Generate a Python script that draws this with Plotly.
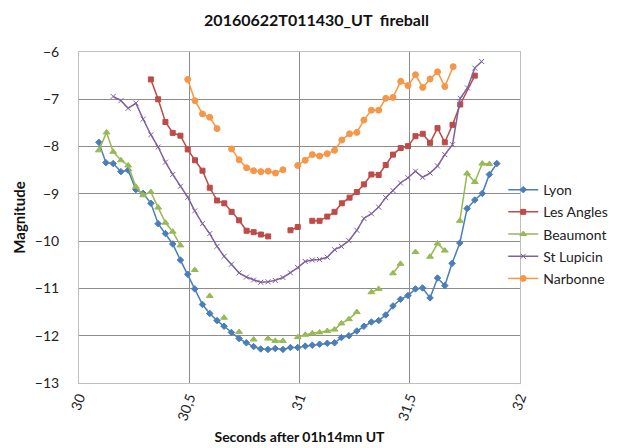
import plotly.graph_objects as go

# ---- data (seconds after 01h14mn UT, magnitude); None = gap ----
lyon_t = [30.09, 30.122, 30.155, 30.19, 30.223, 30.258, 30.291, 30.326, 30.359, 30.392,
          30.425, 30.46, 30.493, 30.525, 30.56, 30.593, 30.626, 30.658, 30.691, 30.726,
          30.759, 30.792, 30.824, 30.857, 30.89, 30.925, 30.959, 30.992, 31.026, 31.058,
          31.091, 31.126, 31.159, 31.19, 31.224, 31.26, 31.292, 31.326, 31.359, 31.391,
          31.424, 31.458, 31.492, 31.526, 31.558, 31.592, 31.626, 31.659, 31.692, 31.727,
          31.76, 31.795, 31.829, 31.861, 31.895]
lyon_m = [-7.91, -8.34, -8.36, -8.53, -8.50, -8.91, -8.99, -9.20, -9.63, -9.84,
          -10.06, -10.40, -10.70, -11.01, -11.34, -11.53, -11.68, -11.80, -11.93, -12.06,
          -12.15, -12.23, -12.28, -12.29, -12.27, -12.29, -12.25, -12.25, -12.22, -12.20,
          -12.18, -12.16, -12.15, -12.04, -12.00, -11.90, -11.80, -11.71, -11.68, -11.56,
          -11.37, -11.23, -11.15, -11.01, -10.99, -11.20, -10.78, -10.94, -10.47, -10.04,
          -9.31, -9.13, -8.99, -8.59, -8.36]

angles_t = [30.326, 30.359, 30.392, 30.425, 30.46, 30.493, 30.526, 30.56, 30.593, 30.626,
            30.659, 30.692, 30.726, 30.76, 30.792, 30.825, 30.858, None, 30.959, 30.992,
            None, 31.058, 31.091, 31.126, 31.159, 31.192, 31.227, 31.26, 31.292, 31.326,
            31.359, 31.391, 31.424, 31.459, 31.492, 31.526, 31.559, 31.592, 31.626, 31.659,
            31.694, 31.729, 31.795]
angles_m = [-6.58, -7.00, -7.48, -7.71, -7.77, -8.06, -8.29, -8.51, -8.87, -9.14,
            -9.20, -9.38, -9.56, -9.78, -9.81, -9.86, -9.90, None, -9.77, -9.70,
            None, -9.57, -9.57, -9.48, -9.38, -9.20, -9.08, -8.96, -8.80, -8.59,
            -8.60, -8.39, -8.17, -8.03, -7.99, -7.78, -7.73, -7.92, -7.61, -7.91,
            -7.54, -7.11, -6.50]

beaumont_t = [30.09, 30.125, 30.155, 30.19, 30.223, 30.258, 30.291, 30.326, 30.359, 30.392,
              30.425, 30.46, None, 30.525, None, 30.593, None, 30.658, None, 30.726,
              None, 30.792, None, 30.857, 30.89, 30.925, None, 30.992, 31.026, 31.058,
              31.091, 31.126, 31.159, 31.19, 31.224, 31.26, None, 31.326, 31.359, None,
              31.424, 31.458, None, 31.526, None, 31.592, 31.626, 31.659, None, 31.727,
              31.76, 31.795, 31.829, 31.861]
beaumont_m = [-8.08, -7.70, -8.11, -8.29, -8.40, -8.85, -9.03, -8.96, -9.29, -9.61,
              -9.80, -10.09, None, -10.61, None, -11.16, None, -11.62, None, -11.92,
              None, -12.08, None, -12.06, -12.11, -12.11, None, -12.03, -11.98, -11.95,
              -11.93, -11.90, -11.87, -11.74, -11.65, -11.50, None, -11.08, -11.01, None,
              -10.68, -10.48, None, -10.23, None, -10.33, -10.05, -10.20, None, -9.57,
              -8.57, -8.75, -8.36, -8.37]

lupicin_t = [30.155, 30.19, 30.223, 30.258, 30.291, 30.326, 30.359, 30.392, 30.425, 30.46,
             30.493, 30.525, 30.56, 30.593, 30.626, 30.658, 30.691, 30.726, 30.759, 30.792,
             30.824, 30.857, 30.89, 30.925, 30.959, 30.992, 31.026, 31.058, 31.091, 31.126,
             31.159, 31.19, 31.224, 31.26, 31.292, 31.326, 31.359, 31.391, 31.424, 31.458,
             31.492, 31.526, 31.558, 31.592, 31.626, 31.659, 31.694, 31.729, 31.762, 31.795,
             31.826]
lupicin_m = [-6.94, -7.03, -7.19, -7.08, -7.42, -7.75, -8.01, -8.33, -8.59, -8.84,
             -9.07, -9.36, -9.63, -9.84, -10.11, -10.32, -10.49, -10.67, -10.76, -10.82,
             -10.87, -10.86, -10.83, -10.77, -10.67, -10.56, -10.43, -10.40, -10.39, -10.34,
             -10.18, -10.11, -9.99, -9.77, -9.52, -9.42, -9.28, -9.08, -8.93, -8.77,
             -8.66, -8.52, -8.65, -8.56, -8.41, -8.17, -7.96, -6.98, -6.76, -6.34,
             -6.20]

narbonne_t = [30.493, 30.526, 30.56, 30.593, 30.626, None, 30.692, 30.726, 30.76, 30.792,
              30.825, 30.858, 30.891, 30.925, None, 30.992, 31.026, 31.058, 31.091, 31.126,
              31.159, 31.192, 31.227, 31.26, 31.292, 31.326, 31.359, 31.391, 31.424, 31.459,
              31.492, 31.526, 31.559, 31.592, 31.626, 31.659, 31.697]
narbonne_m = [-6.58, -7.03, -7.31, -7.38, -7.62, None, -8.05, -8.28, -8.45, -8.51,
              -8.53, -8.52, -8.56, -8.49, None, -8.40, -8.29, -8.17, -8.20, -8.15,
              -8.08, -7.86, -7.73, -7.70, -7.44, -7.23, -7.23, -6.98, -6.96, -6.62,
              -6.71, -6.48, -6.75, -6.57, -6.42, -6.73, -6.31]

x_tickvals = [30, 30.5, 31, 31.5, 32]
x_ticktext = ["30", "30,5", "31", "31,5", "32"]
y_tickvals = [-6, -7, -8, -9, -10, -11, -12, -13]

FONT = "Lato, 'Open Sans', sans-serif"

series = [
    ("Lyon", lyon_t, lyon_m, "#4A7EBB", "diamond", 5),
    ("Les Angles", angles_t, angles_m, "#BE4B48", "square", 5),
    ("Beaumont", beaumont_t, beaumont_m, "#98B954", "triangle-up", 6),
    ("St Lupicin", lupicin_t, lupicin_m, "#7D60A0", "x-thin-open", 5),
    ("Narbonne", narbonne_t, narbonne_m, "#F79646", "circle", 6),
]

fig = go.Figure()
for name, t, m, col, sym, sz in series:
    fig.add_trace(go.Scatter(
        x=t, y=m, name=name, legendgroup=name, mode="lines+markers", connectgaps=False,
        line=dict(color=col, width=1.5),
        marker=dict(symbol=sym, size=sz, color=col, line=dict(color=col, width=1)),
    ))

fig.update_layout(
    width=617, height=448,
    paper_bgcolor="white", plot_bgcolor="white",
    margin=dict(l=71, r=105, t=44, b=73),
    font=dict(family=FONT, size=14, color="#222222"),
    title=dict(text="<b>20160622T011430_UT  fireball</b>", x=0.5, xanchor="center",
               y=0.972, yanchor="middle", font=dict(family=FONT, size=16, color="#111111")),
    showlegend=True,
    legend=dict(x=0.962, xanchor="left", y=0.45, yanchor="middle",
                font=dict(family=FONT, size=14, color="#222222"),
                bgcolor="rgba(0,0,0,0)", tracegroupgap=1, itemwidth=30),
)
fig.update_xaxes(
    range=[30, 32], tickvals=x_tickvals, ticktext=x_ticktext, tickangle=-70,
    showgrid=True, gridcolor="#8C8C8C", gridwidth=1,
    showline=True, linecolor="#BFBFBF", linewidth=1, mirror=True,
    zeroline=False, ticks="", ticklabelstandoff=0,
    title=dict(text="<b>Seconds after 01h14mn UT</b>", standoff=10,
               font=dict(family=FONT, size=14, color="#111111")),
)
fig.update_yaxes(
    range=[-13, -6], tickvals=y_tickvals,
    showgrid=True, gridcolor="#8C8C8C", gridwidth=1,
    showline=True, linecolor="#BFBFBF", linewidth=1, mirror=True,
    zeroline=False, ticks="", ticklabelstandoff=16,
    title=dict(text="<b>Magnitude</b>", standoff=5,
               font=dict(family=FONT, size=15, color="#111111")),
)

fig.write_html("out.html")
